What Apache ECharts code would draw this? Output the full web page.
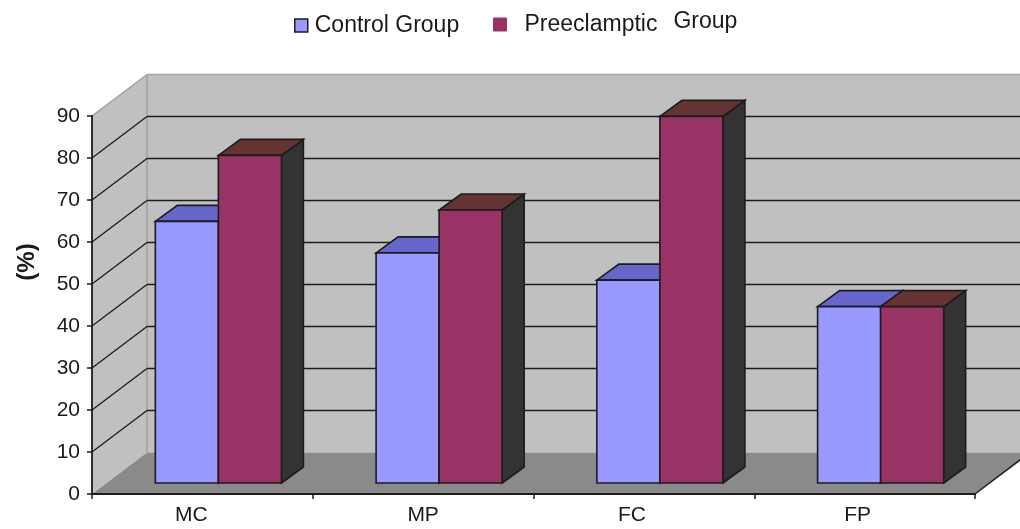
<!DOCTYPE html>
<html><head><meta charset="utf-8">
<style>html,body{margin:0;padding:0;background:#fff}#c{width:1020px;height:529px}</style>
<script src="https://cdn.jsdelivr.net/npm/echarts@6/dist/echarts.min.js"></script>
</head><body><div id="c"></div>
<script>
const categories = ['MC','MP','FC','FP'];
const controlGroup = [62.3,54.8,48.3,42];
const preeclampticGroup = [78,65,87.3,42];
const valueTicks = [10,20,30,40,50,60,70,80];
const FONT = '"Liberation Sans", Arial, sans-serif';
const WALL_DX = 55, WALL_DY = -41.5;   // depth of the 3-D box
const BAR_INSET_X = 16, BAR_INSET_Y = -11, BAR_DX = 22, BAR_DY = -16;
const EDGE = '#1c1c1c';

function poly(points, fill, stroke, lw) {
  return {type:'polygon', shape:{points}, style:{fill, stroke:stroke||null, lineWidth:lw||0}};
}
function seg(x1,y1,x2,y2,stroke,lw){
  return {type:'line', shape:{x1,y1,x2,y2}, style:{stroke, lineWidth:lw}};
}
function renderBox(params, api){
  const cs = params.coordSys;
  const l = cs.x, r = cs.x + cs.width, b = cs.y + cs.height;
  const topY = api.coord([0,90])[1];
  const kids = [];
  kids.push(poly([[l+WALL_DX,topY+WALL_DY],[r+WALL_DX,topY+WALL_DY],[r+WALL_DX,b+WALL_DY],[l+WALL_DX,b+WALL_DY]],'#c0c0c0'));
  kids.push(poly([[l,topY],[l+WALL_DX,topY+WALL_DY],[l+WALL_DX,b+WALL_DY],[l,b]],'#c0c0c0'));
  kids.push(poly([[l,b],[r,b],[r+WALL_DX,b+WALL_DY],[l+WALL_DX,b+WALL_DY]],'#8a8a8a'));
  kids.push(seg(l,topY,l+WALL_DX,topY+WALL_DY,'#a0a0a0',1.5));
  kids.push(seg(l+WALL_DX,topY+WALL_DY,r+WALL_DX,topY+WALL_DY,'#a6a6a6',1.5));
  kids.push(seg(l+WALL_DX,topY+WALL_DY,l+WALL_DX,b+WALL_DY,'#a0a0a0',1.5));
  valueTicks.forEach(v=>{
    const y = api.coord([0,v])[1];
    kids.push(seg(l,y,l+WALL_DX,y+WALL_DY,EDGE,1.3));
    kids.push(seg(l+WALL_DX,y+WALL_DY,r+WALL_DX,y+WALL_DY,EDGE,1.6));
  });
  kids.push(seg(r,b,r+WALL_DX,b+WALL_DY,EDGE,1.5));
  return {type:'group', children:kids};
}
function barRenderer(side, front, top, dark){
  return function(params, api){
    const cx = api.coord([api.value(0),0])[0] + BAR_INSET_X;
    const base = api.coord([api.value(0),0])[1] + BAR_INSET_Y;
    const h = api.coord([api.value(0),api.value(1)])[1] + BAR_INSET_Y;
    const w = api.size([1,0])[0]*0.2855;
    const x0 = side<0 ? cx-w : cx, x1 = x0+w;
    return {type:'group', children:[
      poly([[x1,base],[x1+BAR_DX,base+BAR_DY],[x1+BAR_DX,h+BAR_DY],[x1,h]],dark,EDGE,1.6),
      poly([[x0,h],[x1,h],[x1+BAR_DX,h+BAR_DY],[x0+BAR_DX,h+BAR_DY]],top,EDGE,1.6),
      poly([[x0,base],[x1,base],[x1,h],[x0,h]],front,EDGE,1.6)
    ]};
  };
}
const labelShift = [22,0,24,14];
const xRich = {};
labelShift.forEach((s,i)=>{ xRich['l'+i] = {fontSize:21, fontFamily:FONT, color:'#1a1a1a', padding:[0,s,0,0]}; });

const chart = echarts.init(document.getElementById('c'));
chart.setOption({
  animation:false,
  backgroundColor:'#fff',
  grid:{left:92,right:45,top:116,bottom:35},
  legend:[
    {data:['Control Group'], left:289, top:9, icon:'rect', itemWidth:13, itemHeight:13, itemGap:0,
     itemStyle:{borderColor:EDGE,borderWidth:1.5},
     textStyle:{fontFamily:FONT,fontSize:23,color:'#1a1a1a',padding:[0,0,0,2]}},
    {data:['Preeclamptic  Group'], left:488, top:5, icon:'rect', itemWidth:13, itemHeight:13, itemGap:0,
     itemStyle:{borderColor:'#993366',borderWidth:1},
     formatter:()=>'{p|Preeclamptic}{g|Group}',
     textStyle:{fontFamily:FONT,fontSize:23,color:'#1a1a1a',
       rich:{p:{fontFamily:FONT,fontSize:23,color:'#1a1a1a',padding:[0,0,0,13]},
             g:{fontFamily:FONT,fontSize:23,color:'#1a1a1a',padding:[0,0,6,16]}}}}
  ],
  xAxis:{type:'category',data:categories,z:5,
    axisLine:{lineStyle:{color:EDGE,width:1.8}},
    axisTick:{show:true,length:5,lineStyle:{color:EDGE,width:1.5},alignWithLabel:false},
    axisLabel:{margin:11,formatter:(v,i)=>`{l${i}|${v}}`,rich:xRich,color:'#1a1a1a'}},
  yAxis:{type:'value',min:0,max:90,interval:10,z:5,
    name:'(%)',nameLocation:'middle',nameGap:53,nameRotate:90,
    nameTextStyle:{fontFamily:FONT,fontSize:24,fontWeight:'bold',color:'#1a1a1a',padding:[0,0,0,86]},
    axisLine:{show:true,lineStyle:{color:EDGE,width:1.8}},
    axisTick:{show:true,length:5,lineStyle:{color:EDGE,width:1.5}},
    splitLine:{show:false},
    axisLabel:{margin:12,fontFamily:FONT,fontSize:21,color:'#1a1a1a'}},
  series:[
    {type:'custom',name:'box',z:1,silent:true,renderItem:renderBox,data:[[0,0]],encode:{x:0,y:1}},
    {type:'custom',name:'Control Group',z:2,itemStyle:{color:'#9999ff'},
     renderItem:barRenderer(-1,'#9999ff','#6666cc','#333333'),
     data:controlGroup.map((v,i)=>[i,v]),encode:{x:0,y:1}},
    {type:'custom',name:'Preeclamptic  Group',z:3,itemStyle:{color:'#993366'},
     renderItem:barRenderer(1,'#993366','#663333','#333333'),
     data:preeclampticGroup.map((v,i)=>[i,v]),encode:{x:0,y:1}}
  ]
});
</script></body></html>
